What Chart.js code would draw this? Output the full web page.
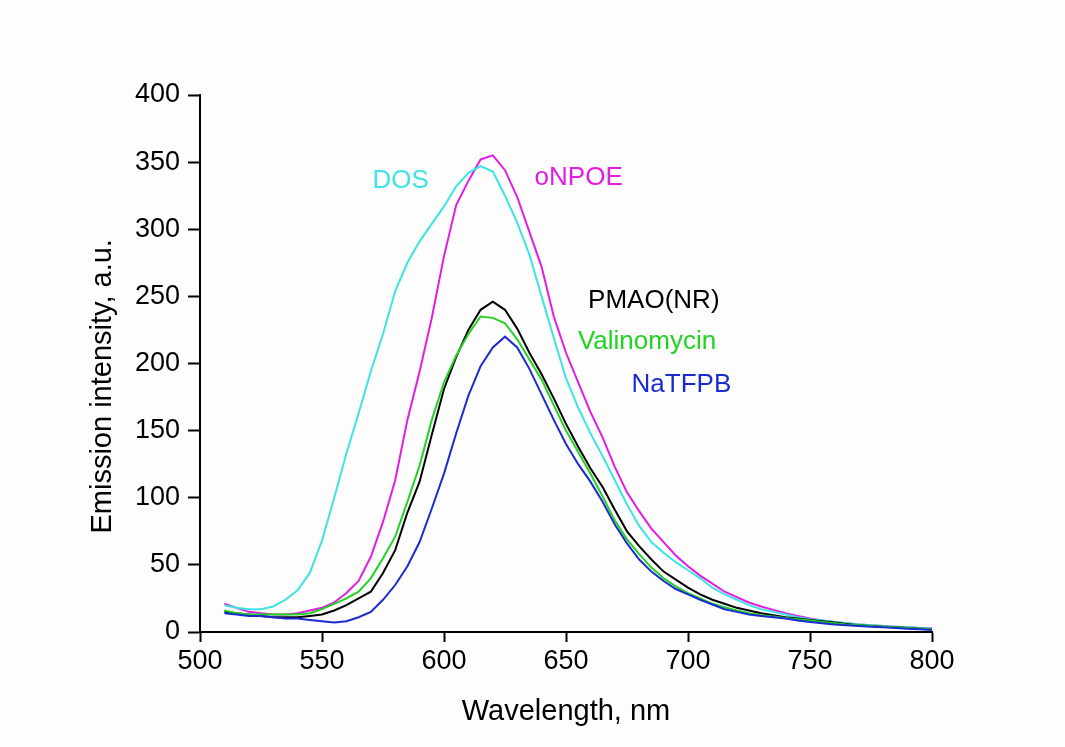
<!DOCTYPE html>
<html>
<head>
<meta charset="utf-8">
<script src="https://cdn.jsdelivr.net/npm/chart.js@4.4.1/dist/chart.umd.min.js"></script>
<style>
  html, body { margin: 0; padding: 0; background: #fdfdfd; }
  canvas { display: block; }
</style>
</head>
<body>
<canvas id="spectra" width="1065" height="747"></canvas>
<script>
// wavelength grid (nm)
var wavelengths = [510,515,520,525,530,535,540,545,550,555,560,565,570,575,580,585,590,595,600,605,
  610,615,620,625,630,635,640,645,650,655,660,665,670,675,680,685,690,695,700,705,
  710,715,720,725,730,735,740,745,750,755,760,765,770,775,780,785,790,795,800];

// emission intensity, a.u.
var dos = [20,18,17,17,19,24,31,44,68,100,133,163,194,222,254,275,291,304,317,332,
  342,347,343,325,305,281,250,219,189,167,148,131,113,95,79,67,59,52,46,40,
  33,28,24,20,17,15,13,11,9.5,8.5,7.5,6.5,5.5,5,4.5,4,3.5,3,2.5];
var onpoe = [21,18,15,14,13,13,14,16,18,22,29,38,56,82,113,158,194,234,280,318,
  336,352,355,344,324,298,272,235,208,186,164,145,123,104,90,77,67,57,49,42,
  36,30,26,22,19,16.5,14,12,10,8.5,7.5,6.5,5.5,5,4.5,4,3.5,3,2.7];
var pmao = [15,14,13,12,11,11,11,12,13,16,20,25,30,44,61,89,112,147,181,205,
  225,240,246,240,226,208,192,174,155,138,122,108,91,75,64,54,45,39,33,28,
  24,21,18,16,14,12.5,11,10,9,8,7,6,5,4.5,4,3.5,3,2.5,2];
var valino = [16,14,13,13,13,13,13,14,17,21,25,30,40,55,71,97,124,158,186,206,
  222,235,234,230,218,203,188,169,150,134,118,101,83,69,58,48,40,34,29,25,
  21,18.5,16,14,12.5,11.5,10.5,9.5,8.5,7.5,6.5,5.5,5,4.5,4,3.5,3,2.5,2];
var natfpb = [14,13,12,12,11,10,10,9,8,7,8,11,15,24,35,49,67,92,118,148,
  176,198,212,220,212,196,177,158,140,125,112,97,80,66,54,45,38,32,28,24,
  20.5,17,15,13,12,11,10,8.5,7.5,6.5,5.5,5,4.5,4,3.5,3,2.5,2,1.5];

var yTicks = [0,50,100,150,200,250,300,350,400];
var xTicks = [500,550,600,650,700,750,800];

function pts(vals){
  return wavelengths.map(function(w,i){ return {x:w, y:vals[i]}; });
}

var FONT = '"Liberation Sans", Arial, sans-serif';
Chart.defaults.font.family = FONT;
Chart.defaults.color = '#000';

// curve labels placed in data coordinates
var curveLabels = [
  {text:'DOS',         x:582.2, y:330.5, color:'#3ee3e3'},
  {text:'oNPOE',       x:655.2, y:333.3, color:'#e21de2'},
  {text:'PMAO(NR)',    x:686.0, y:241.0, color:'#000000'},
  {text:'Valinomycin', x:683.2, y:211.0, color:'#22d322'},
  {text:'NaTFPB',      x:697.3, y:178.8, color:'#1b2bd0'}
];

var labelPlugin = {
  id:'curveLabels',
  afterDatasetsDraw:function(chart){
    var ctx = chart.ctx, xs = chart.scales.x, ys = chart.scales.y;
    ctx.save();
    ctx.font = '26px ' + FONT;
    ctx.textAlign = 'center';
    ctx.textBaseline = 'alphabetic';
    curveLabels.forEach(function(l){
      ctx.fillStyle = l.color;
      ctx.fillText(l.text, xs.getPixelForValue(l.x), ys.getPixelForValue(l.y));
    });
    // y axis title
    ctx.fillStyle = '#000';
    ctx.font = '29px ' + FONT;
    ctx.textBaseline = 'middle';
    ctx.translate(chart.chartArea.left - 97, ys.getPixelForValue(183));
    ctx.rotate(-Math.PI/2);
    ctx.fillText('Emission intensity, a.u.', 0, 0);
    ctx.restore();
  }
};

function line(label, vals, color){
  return {label:label, data:pts(vals), borderColor:color, backgroundColor:color,
    borderWidth:2, pointRadius:0, tension:0, fill:false};
}

new Chart(document.getElementById('spectra'), {
  type:'line',
  data:{
    datasets:[
      line('NaTFPB', natfpb, '#1b2bd0'),
      line('Valinomycin', valino, '#22d322'),
      line('PMAO(NR)', pmao, '#000000'),
      line('DOS', dos, '#3ee3e3'),
      line('oNPOE', onpoe, '#e21de2')
    ]
  },
  options:{
    responsive:false,
    animation:false,
    layout:{padding:{top:95, right:133, left:0, bottom:0}},
    plugins:{legend:{display:false}, tooltip:{enabled:false}},
    scales:{
      x:{
        type:'linear', min:500, max:800,
        afterBuildTicks:function(s){ s.ticks = xTicks.map(function(v){ return {value:v}; }); },
        afterFit:function(s){ s.height = 115; },
        border:{color:'#000', width:2},
        grid:{drawOnChartArea:false, drawTicks:true, tickLength:10, color:'#000', tickWidth:2},
        ticks:{font:{size:27}, color:'#000', padding:3, maxRotation:0},
        title:{display:true, text:'Wavelength, nm', font:{size:29}, color:'#000', padding:{top:0, bottom:18}}
      },
      y:{
        min:0, max:400,
        afterBuildTicks:function(s){ s.ticks = yTicks.map(function(v){ return {value:v}; }); },
        afterFit:function(s){ s.width = 200; },
        border:{color:'#000', width:2},
        grid:{drawOnChartArea:false, drawTicks:true, tickLength:12, color:'#000', tickWidth:2},
        ticks:{font:{size:27}, color:'#000', padding:8}
      }
    }
  },
  plugins:[labelPlugin]
});
</script>
</body>
</html>
